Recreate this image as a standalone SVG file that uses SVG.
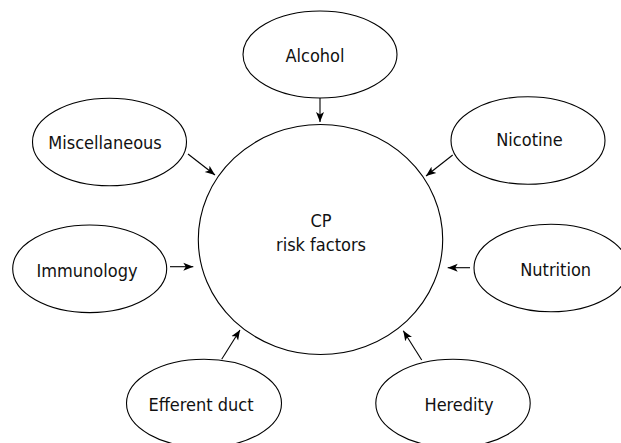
<svg xmlns="http://www.w3.org/2000/svg" width="621" height="443" viewBox="0 0 621 443">
<style>
.n{fill:#fff;stroke:#000;stroke-width:1.1}
.t{font-family:"DejaVu Sans Condensed","DejaVu Sans",sans-serif;font-stretch:condensed;font-size:18px;fill:#111;text-anchor:middle}
.c{stroke:#000;stroke-width:1.1;fill:none;marker-end:url(#ah)}
</style>
<defs>
<marker id="ah" markerUnits="userSpaceOnUse" markerWidth="12" markerHeight="10" viewBox="0 0 12 10" refX="10" refY="5" orient="auto">
<path d="M0,1 L10,5 L0,9 L2.5,5 Z" fill="#000"/>
</marker>
</defs>
<rect width="621" height="443" fill="#fff"/>
<g id="center">
<ellipse class="n" cx="320.5" cy="239.5" rx="122.2" ry="115"/>
<text class="t" x="321" y="226.7">CP</text>
<text class="t" x="321" y="250.7">risk factors</text>
</g>
<g id="alcohol">
<ellipse class="n" cx="320" cy="54.5" rx="77" ry="43.5"/>
<text class="t" x="315" y="62">Alcohol</text>
</g>
<g id="miscellaneous">
<ellipse class="n" cx="109.5" cy="142" rx="77" ry="43.7"/>
<text class="t" x="105" y="149.3">Miscellaneous</text>
</g>
<g id="nicotine">
<ellipse class="n" cx="528" cy="140.5" rx="77" ry="43.8"/>
<text class="t" x="529.5" y="145.7">Nicotine</text>
</g>
<g id="immunology">
<ellipse class="n" cx="89.7" cy="268.8" rx="77" ry="43.8"/>
<text class="t" x="87" y="277.3">Immunology</text>
</g>
<g id="nutrition">
<ellipse class="n" cx="551" cy="268" rx="77" ry="43.8"/>
<text class="t" x="555.7" y="276">Nutrition</text>
</g>
<g id="efferent-duct">
<ellipse class="n" cx="204" cy="403.3" rx="77.5" ry="44"/>
<text class="t" x="201" y="410.7">Efferent duct</text>
</g>
<g id="heredity">
<ellipse class="n" cx="453" cy="403.3" rx="77.2" ry="44"/>
<text class="t" x="459" y="410.7">Heredity</text>
</g>
<g id="connectors">
<line class="c" x1="320" y1="98" x2="320" y2="122"/>
<line class="c" x1="188" y1="154" x2="215" y2="175"/>
<line class="c" x1="452.7" y1="155" x2="426" y2="176"/>
<line class="c" x1="170" y1="266.7" x2="193.3" y2="266.7"/>
<line class="c" x1="470" y1="267.7" x2="447.7" y2="267.7"/>
<line class="c" x1="221.7" y1="359.3" x2="240" y2="330"/>
<line class="c" x1="421.7" y1="360" x2="403.3" y2="330.7"/>
</g>
</svg>
